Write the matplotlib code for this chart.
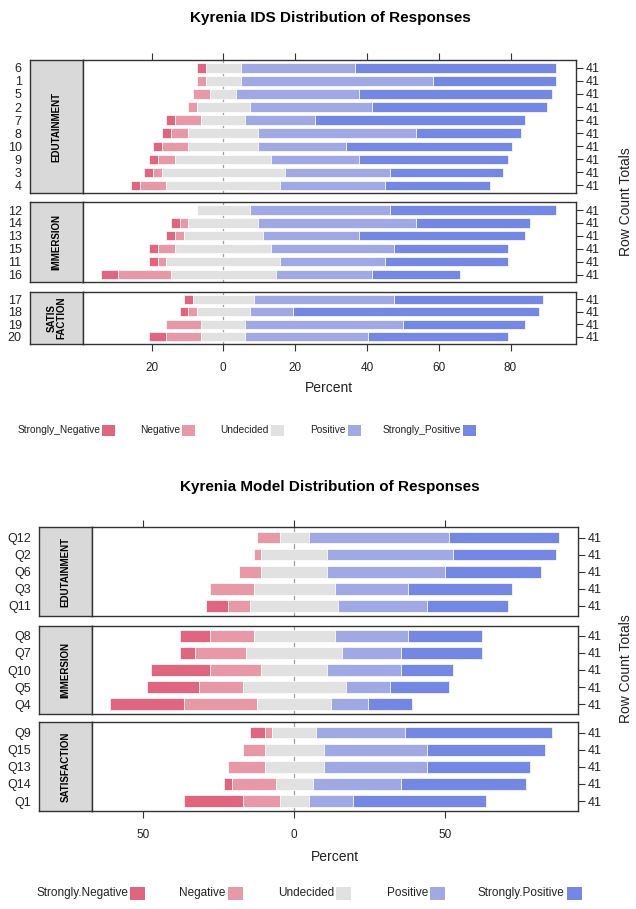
import matplotlib
matplotlib.use("Agg")
import matplotlib.pyplot as plt
from matplotlib.patches import Rectangle
import numpy as np

plt.rcParams['font.family'] = ['Liberation Sans', 'DejaVu Sans']

# counts per row: Strongly neg, Neg, Undecided, Pos, Strongly pos (n = 41)
ids_edu_labels = ['6', '1', '5', '2', '7', '8', '10', '9', '3', '4']
ids_edu_counts = [[1, 0, 4, 13, 23], [0, 1, 4, 22, 14], [0, 2, 3, 14, 22], [0, 1, 6, 14, 20],
                  [1, 3, 5, 8, 24], [1, 2, 8, 18, 12], [1, 3, 8, 10, 19], [1, 2, 11, 10, 17],
                  [1, 1, 14, 12, 13], [1, 3, 13, 12, 12]]
ids_imm_labels = ['12', '14', '13', '15', '11', '16']
ids_imm_counts = [[0, 0, 6, 16, 19], [1, 1, 8, 18, 13], [1, 1, 9, 11, 19],
                  [1, 2, 11, 14, 13], [1, 1, 13, 12, 14], [2, 6, 12, 11, 10]]
ids_sat_labels = ['17', '18', '19', '20']
ids_sat_counts = [[1, 0, 7, 16, 17], [1, 1, 6, 5, 28], [0, 4, 5, 18, 14], [2, 4, 5, 14, 16]]

mod_edu_labels = ['Q12', 'Q2', 'Q6', 'Q3', 'Q11']
mod_edu_counts = [[0, 3, 4, 19, 15], [0, 1, 9, 17, 14], [0, 3, 9, 16, 13],
                  [0, 6, 11, 10, 14], [3, 3, 12, 12, 11]]
mod_imm_labels = ['Q8', 'Q7', 'Q10', 'Q5', 'Q4']
mod_imm_counts = [[4, 6, 11, 10, 10], [2, 7, 13, 8, 11], [8, 7, 9, 10, 7],
                  [7, 6, 14, 6, 8], [10, 10, 10, 5, 6]]
mod_sat_labels = ['Q9', 'Q15', 'Q13', 'Q14', 'Q1']
mod_sat_counts = [[2, 1, 6, 12, 20], [0, 3, 8, 14, 16], [0, 5, 8, 14, 14],
                  [1, 6, 5, 12, 17], [8, 5, 4, 6, 18]]

row_total = 41
ids_ticks = [-20, 0, 20, 40, 60, 80]
mod_ticks = [-50, 0, 50]
ids_legend = ['Strongly_Negative', 'Negative', 'Undecided', 'Positive', 'Strongly_Positive']
mod_legend = ['Strongly.Negative', 'Negative', 'Undecided', 'Positive', 'Strongly.Positive']

colors = ['#E0657F', '#E899A7', '#E1E1E1', '#A0A9E3', '#7387E3']

W, H = 636, 909
fig = plt.figure(figsize=(W / 100, H / 100), dpi=100)


def box(x0, y0, x1, y1):
    return [x0 / W, 1 - y1 / H, (x1 - x0) / W, (y1 - y0) / H]


def panel(x0, xs, x1, y0, y1, labels, counts, strip, xlim, ticks, top=False, bottom=False, bar_h=0.72):
    n = len(labels)
    ax_s = fig.add_axes(box(x0, y0, xs, y1))
    ax = fig.add_axes(box(xs, y0, x1, y1))
    for a in (ax, ax_s):
        a.set_ylim(n + 0.6, 0.4)
        for sp in a.spines.values():
            sp.set_color('#333333')
            sp.set_linewidth(1.0)
    ax_s.set_facecolor('#D9D9D9')
    ax_s.set_xticks([])
    ax_s.set_yticks(np.arange(1, n + 1))
    ax_s.set_yticklabels(labels, fontsize=9, color='#222222')
    ax_s.tick_params(axis='y', length=0, pad=6)
    ax_s.text(0.5, 0.5, strip, rotation=90, ha='center', va='center', fontsize=7,
              fontweight='bold', transform=ax_s.transAxes, linespacing=1.0)

    ax.set_xlim(*xlim)
    ax.axvline(0, color='#A0A0A0', lw=0.9, zorder=1)
    pct = np.array(counts, dtype=float) / row_total * 100
    y = np.arange(1, n + 1)
    left = -(pct[:, 0] + pct[:, 1] + pct[:, 2] / 2)
    for k in range(5):
        ax.barh(y, pct[:, k], left=left, height=bar_h, color=colors[k],
                edgecolor='white', linewidth=0.5, zorder=2)
        left = left + pct[:, k]

    ax.yaxis.tick_right()
    ax.set_yticks(y)
    ax.set_yticklabels([str(row_total)] * n, fontsize=9, color='#222222')
    ax.tick_params(axis='y', direction='out', length=5, width=0.8, pad=2, colors='#333333',
                   labelcolor='#222222')
    ax.set_xticks(ticks)
    ax.set_xticklabels([str(abs(t)) for t in ticks], fontsize=8.5, color='#222222')
    ax.tick_params(axis='x', direction='out', length=5, width=0.8, colors='#333333',
                   labelcolor='#222222', top=top, bottom=bottom, labeltop=False,
                   labelbottom=bottom, pad=8)
    return ax


def legend(names, lefts, yc, sw, sh, fs):
    for name, lx, c in zip(names, lefts, colors):
        fig.patches.append(Rectangle((lx / W, 1 - (yc + sh / 2) / H), sw / W, sh / H,
                                     transform=fig.transFigure, facecolor=c, edgecolor='none'))
        fig.text((lx - 2) / W, 1 - yc / H, name, ha='right', va='center', fontsize=fs,
                 color='#222222')


# ---- top chart: Kyrenia IDS
ids_xlim = ((82.7 - 223.3) / 3.59, (576 - 223.3) / 3.59)
fig.text(330 / W, 1 - 18 / H, 'Kyrenia IDS Distribution of Responses', ha='center', va='center',
         fontsize=11, fontweight='bold')
panel(30, 82.7, 576, 60, 193.3, ids_edu_labels, ids_edu_counts, 'EDUTAINMENT', ids_xlim, ids_ticks, top=True)
panel(30, 82.7, 576, 202.3, 282.3, ids_imm_labels, ids_imm_counts, 'IMMERSION', ids_xlim, ids_ticks)
panel(30, 82.7, 576, 291.7, 344, ids_sat_labels, ids_sat_counts, 'SATIS\nFACTION', ids_xlim, ids_ticks,
      bottom=True)
fig.text(329 / W, 1 - 388 / H, 'Percent', ha='center', va='center', fontsize=10, color='#222222')
fig.text(626 / W, 1 - 202 / H, 'Row Count Totals', ha='center', va='center', rotation=90,
         fontsize=10, color='#222222')
legend(ids_legend, [102.3, 182.3, 271, 347.7, 462.7], 430, 13, 11, 7.3)

# ---- bottom chart: Kyrenia Model
mod_xlim = ((92.3 - 294.3) / 3.02, (578.3 - 294.3) / 3.02)
fig.text(330 / W, 1 - 487 / H, 'Kyrenia Model Distribution of Responses', ha='center', va='center',
         fontsize=11, fontweight='bold')
panel(39.3, 92.3, 578.3, 527.3, 616, mod_edu_labels, mod_edu_counts, 'EDUTAINMENT', mod_xlim, mod_ticks,
      top=True, bar_h=0.69)
panel(39.3, 92.3, 578.3, 625.7, 714.3, mod_imm_labels, mod_imm_counts, 'IMMERSION', mod_xlim, mod_ticks,
      bar_h=0.69)
panel(39.3, 92.3, 578.3, 722.3, 811.3, mod_sat_labels, mod_sat_counts, 'SATISFACTION', mod_xlim, mod_ticks,
      bottom=True, bar_h=0.69)
fig.text(335 / W, 1 - 857 / H, 'Percent', ha='center', va='center', fontsize=10, color='#222222')
fig.text(626 / W, 1 - 669 / H, 'Row Count Totals', ha='center', va='center', rotation=90,
         fontsize=10, color='#222222')
legend(mod_legend, [130, 227.7, 336, 430, 566.7], 893, 15, 13, 8.5)

fig.savefig('out.png', dpi=100)
